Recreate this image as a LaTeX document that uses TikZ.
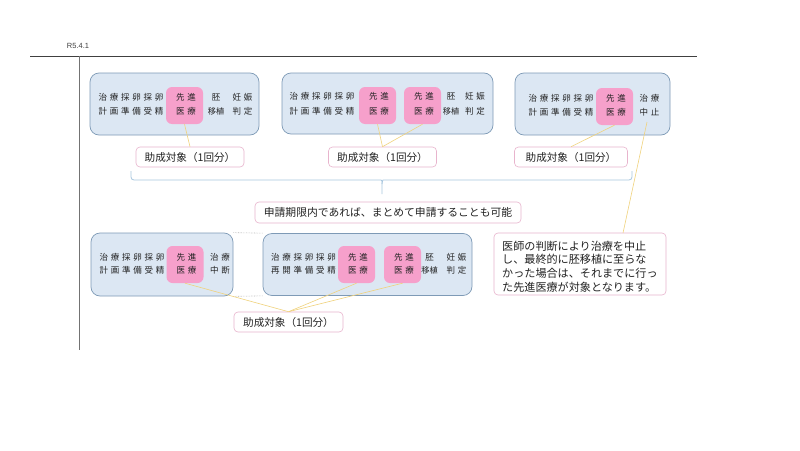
\documentclass[tikz,border=0pt]{standalone}
\usepackage{fontspec}
\setmainfont{Liberation Sans}
\newfontfamily\jp{Noto Sans CJK JP}
\newfontfamily\jpsp[LetterSpace=32]{Noto Sans CJK JP}
\definecolor{grpfill}{HTML}{DCE7F3}
\definecolor{grpline}{HTML}{7E9AB6}
\definecolor{pkfill}{HTML}{F6A0CB}
\definecolor{lblline}{HTML}{E8B4CD}
\definecolor{connc}{HTML}{F0D27C}
\definecolor{bracec}{HTML}{A9C7DF}
\definecolor{txtc}{HTML}{222222}
\begin{document}
\begin{tikzpicture}[x=1pt,y=-1pt,
  grp/.style={draw=grpline, fill=grpfill, rounded corners=9pt, line width=0.7pt, inner sep=0pt},
  pk/.style={fill=pkfill, rounded corners=6pt, inner sep=0pt, minimum width=37pt, minimum height=37pt},
  bt/.style={font=\jpsp\fontsize{8.5}{10}\selectfont, inner sep=0pt, text=txtc},
  btt/.style={font=\jp\fontsize{8.2}{10}\selectfont, inner sep=0pt, text=txtc},
  lbl/.style={draw=lblline, fill=white, rounded corners=4pt, line width=0.6pt, inner sep=0pt, minimum height=20pt, font=\jp\fontsize{10.6}{12}\selectfont, text=txtc},
  ct/.style={font=\jp\fontsize{11.1}{12}\selectfont, inner sep=0pt, anchor=west, text=txtc},
  conn/.style={draw=connc, line width=0.6pt},
  bracepath/.style={draw=bracec, line width=0.8pt}]
\useasboundingbox (0,0) rectangle (800,450);
\fill[white] (0,0) rectangle (800,450);

% header
\node[font=\fontsize{7.5}{9}\selectfont, text=black!75, inner sep=0pt] (date) at (78,46) {R5.4.1};
\coordinate (hl) at (30,56);
\coordinate (hr) at (697,56);
\coordinate (vb) at (79,350);
\coordinate (vt) at (79,56);
\draw[black!75, line width=0.8pt] (hl) -- (hr);
\draw[black!55, line width=0.8pt] (vt) -- (vb);

% ---- top row boxes
\node[grp, minimum width=169pt, minimum height=62pt] (b1) at (174.5,104) {};
\node[grp, minimum width=211pt, minimum height=61pt] (b2) at (387.5,103.5) {};
\node[grp, minimum width=155pt, minimum height=62pt] (b3) at (592.5,104) {};

\node[pk] (p1) at (184.5,105.5) {};
\node[pk] (p2a) at (377.5,105.5) {};
\node[pk] (p2b) at (422.5,105.5) {};
\node[pk] (p3) at (614.5,106.5) {};

% box 1 text
\node[bt] (t1a) at (131,97) {治療採卵採卵};
\node[bt] (t1b) at (131,111) {計画準備受精};
\node[bt] (s1a) at (186,97) {先進};
\node[bt] (s1b) at (186,111) {医療};
\node[bt] (r1a) at (216,97) {胚};
\node[btt] (r1b) at (216,111) {移植};
\node[bt] (r1c) at (242.5,97) {妊娠};
\node[bt] (r1d) at (242.5,111) {判定};

% box 2 text
\node[bt] (t2a) at (322,96.5) {治療採卵採卵};
\node[bt] (t2b) at (322,111) {計画準備受精};
\node[bt] (s2a) at (379,96.5) {先進};
\node[bt] (s2b) at (379,111) {医療};
\node[bt] (s2c) at (424,96.5) {先進};
\node[bt] (s2d) at (424,111) {医療};
\node[bt] (r2a) at (451,96.5) {胚};
\node[btt] (r2b) at (451,111) {移植};
\node[bt] (r2c) at (475,96.5) {妊娠};
\node[bt] (r2d) at (475,111) {判定};

% box 3 text
\node[bt] (t3a) at (561,98.5) {治療採卵採卵};
\node[bt] (t3b) at (561,112) {計画準備受精};
\node[bt] (s3a) at (616,98.5) {先進};
\node[bt] (s3b) at (616,112) {医療};
\node[bt] (r3a) at (649.5,98.5) {治療};
\node[bt] (r3b) at (649.5,112) {中止};

% labels top
\node[lbl, minimum width=108pt] (l1) at (190,157) {助成対象（1回分）};
\node[lbl, minimum width=108pt] (l2) at (382.5,157) {助成対象（1回分）};
\node[lbl, minimum width=113pt] (l3) at (571,157) {助成対象（1回分）};

\draw[conn] (p1.south) -- (l1.north);
\draw[conn] (p2a.south) -- (l2.north);
\draw[conn] (p2b.south) -- (l2.north);
\draw[conn] (p3.south) -- (l3.north);

% brace
\coordinate (brl) at (131,171);
\coordinate (brr) at (632,171);
\coordinate (brt) at (382,194);
\draw[bracepath, rounded corners=3pt] (brl) |- (378,180) .. controls (381,180) and (382,181) .. (382,184) -- (brt);
\draw[bracepath, rounded corners=3pt] (brr) |- (386,180) .. controls (383,180) and (382,181) .. (382,184);

\node[lbl, minimum width=266pt, minimum height=21pt, font=\jp\fontsize{10.8}{12}\selectfont] (note) at (388,212.5) {申請期限内であれば、まとめて申請することも可能};

% ---- bottom row
\node[grp, minimum width=142pt, minimum height=63pt] (b4) at (162,264.5) {};
\node[grp, minimum width=209pt, minimum height=62pt] (b5) at (367.5,264.5) {};
\draw[black!30, densely dotted, line width=0.6pt] (b4.north east) -- (b5.north west);
\draw[black!30, densely dotted, line width=0.6pt] (b4.south east) -- (b5.south west);

\node[pk] (p4) at (185,264.5) {};
\node[pk] (p5a) at (356.5,264.5) {};
\node[pk] (p5b) at (402.5,264.5) {};

\node[bt] (t4a) at (132,257) {治療採卵採卵};
\node[bt] (t4b) at (132,270) {計画準備受精};
\node[bt] (s4a) at (186.5,257) {先進};
\node[bt] (s4b) at (186.5,270) {医療};
\node[bt] (r4a) at (220,257) {治療};
\node[bt] (r4b) at (220,270) {中断};

\node[bt] (t5a) at (303.5,257) {治療採卵採卵};
\node[bt] (t5b) at (303.5,270) {再開準備受精};
\node[bt] (s5a) at (358,257) {先進};
\node[bt] (s5b) at (358,270) {医療};
\node[bt] (s5c) at (404,257) {先進};
\node[bt] (s5d) at (404,270) {医療};
\node[bt] (r5a) at (429.5,257) {胚};
\node[btt] (r5b) at (429.5,270) {移植};
\node[bt] (r5c) at (456.5,257) {妊娠};
\node[bt] (r5d) at (456.5,270) {判定};

\node[lbl, minimum width=109pt] (l4) at (288.5,322) {助成対象（1回分）};
\draw[conn] (p4.south) -- (l4.north);
\draw[conn] (p5a.south) -- (l4.north);
\draw[conn] (p5b.south) -- (l4.north);

% callout
\node[lbl, minimum width=172pt, minimum height=62pt] (call) at (580,264) {};
\node[ct] (c1) at (502,246) {医師の判断により治療を中止};
\node[ct] (c2) at (502,259.6) {し、最終的に胚移植に至らな};
\node[ct] (c3) at (502,273.2) {かった場合は、それまでに行っ};
\node[ct] (c4) at (502,286.8) {た先進医療が対象となります。};

\coordinate (cs) at (647,122);
\coordinate (ce) at (623,233);
\draw[conn] (cs) -- (ce);
\end{tikzpicture}
\end{document}
